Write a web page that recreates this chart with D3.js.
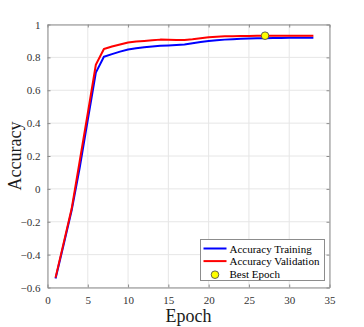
<!DOCTYPE html>
<meta charset="utf-8">
<style>
body { margin: 0; background: #fff; }
svg text { font-family: "Liberation Serif", "Times New Roman", serif !important; }
.grid line { stroke: #e6e6e6; stroke-width: 1; }
</style>
<body>
<script src="https://d3js.org/d3.v7.min.js"></script>
<script>

// data
var epochs = d3.range(1, 34);
var trainAcc = [-0.545, -0.34, -0.13, 0.13, 0.42, 0.707, 0.804, 0.82, 0.835, 0.848,
                0.855, 0.861, 0.866, 0.87, 0.872, 0.875, 0.879, 0.886, 0.893, 0.899,
                0.904, 0.908, 0.911, 0.913, 0.915, 0.916, 0.917, 0.918, 0.918, 0.919,
                0.919, 0.919, 0.919];
var valAcc = [-0.54, -0.33, -0.12, 0.17, 0.46, 0.755, 0.851, 0.866, 0.878, 0.89,
              0.896, 0.9, 0.904, 0.908, 0.907, 0.905, 0.906, 0.91, 0.916, 0.922,
              0.926, 0.928, 0.929, 0.93, 0.93, 0.931, 0.932, 0.932, 0.932, 0.932,
              0.932, 0.932, 0.932];
var bestEpoch = 27;
var xTicks = [0, 5, 10, 15, 20, 25, 30, 35];
var yTicks = [-0.6, -0.4, -0.2, 0, 0.2, 0.4, 0.6, 0.8, 1];
var legendLabels = ["Accuracy Training", "Accuracy Validation", "Best Epoch"];

var W = 364, H = 327;
var margin = {top: 24.5, right: 34.5, bottom: 39.5, left: 47.5},
    width = W - margin.left - margin.right,
    height = H - margin.top - margin.bottom;

var svg = d3.select("body").append("svg")
    .attr("width", W)
    .attr("height", H);

var g = svg.append("g")
    .attr("transform", "translate(" + margin.left + "," + margin.top + ")");

var x = d3.scaleLinear().domain([0, 35]).range([0, width]);
var y = d3.scaleLinear().domain([-0.6, 1]).range([height, 0]);

// grid
g.append("g").attr("class", "grid")
    .selectAll("line").data(xTicks).enter().append("line")
    .attr("x1", d => x(d)).attr("x2", d => x(d))
    .attr("y1", 0).attr("y2", height);
g.append("g").attr("class", "grid")
    .selectAll("line").data(yTicks).enter().append("line")
    .attr("x1", 0).attr("x2", width)
    .attr("y1", d => y(d)).attr("y2", d => y(d));

// lines
var line = d3.line()
    .x(function(d, i) { return x(epochs[i]); })
    .y(function(d) { return y(d); });

g.append("path").datum(trainAcc)
    .attr("fill", "none").attr("stroke", "#0000ff").attr("stroke-width", 2)
    .attr("stroke-linejoin", "round")
    .attr("d", line);
g.append("path").datum(valAcc)
    .attr("fill", "none").attr("stroke", "#ff0000").attr("stroke-width", 2)
    .attr("stroke-linejoin", "round")
    .attr("d", line);

// best epoch marker
g.append("circle")
    .attr("cx", x(bestEpoch))
    .attr("cy", y(valAcc[epochs.indexOf(bestEpoch)]))
    .attr("r", 3.8)
    .attr("fill", "#ffff00").attr("stroke", "#404040").attr("stroke-width", 0.8);

// axes (box with inward ticks)
var fmt = d3.format("");
function styleAxis(sel) {
    sel.attr("font-family", null).attr("font-size", null);
    sel.select(".domain").attr("stroke", "#8c8c8c");
    sel.selectAll(".tick line").attr("stroke", "#8c8c8c");
    sel.selectAll(".tick text").style("font-size", "11px").attr("fill", "#333");
}
g.append("g")
    .attr("transform", "translate(0," + height + ")")
    .call(d3.axisBottom(x).tickValues(xTicks).tickSizeInner(-3).tickSizeOuter(0).tickPadding(9).tickFormat(fmt))
    .call(styleAxis);
g.append("g")
    .call(d3.axisLeft(y).tickValues(yTicks).tickSizeInner(-3).tickSizeOuter(0).tickPadding(7).tickFormat(fmt))
    .call(styleAxis);
g.append("g")
    .call(d3.axisTop(x).tickValues(xTicks).tickSizeInner(-3).tickSizeOuter(0).tickFormat(""))
    .call(styleAxis);
g.append("g")
    .attr("transform", "translate(" + width + ",0)")
    .call(d3.axisRight(y).tickValues(yTicks).tickSizeInner(-3).tickSizeOuter(0).tickFormat(""))
    .call(styleAxis);

// axis labels
svg.append("text")
    .attr("x", margin.left + width / 2).attr("y", 322)
    .attr("text-anchor", "middle")
    .attr("fill", "#1a1a1a")
    .style("font-size", "18px")
    .text("Epoch");
svg.append("text")
    .attr("transform", "translate(21," + (margin.top + height / 2) + ") rotate(-90)")
    .attr("text-anchor", "middle")
    .attr("fill", "#1a1a1a")
    .style("font-size", "18px")
    .text("Accuracy");

// legend
var lg = svg.append("g").attr("transform", "translate(200.5,239.5)");
lg.append("rect")
    .attr("width", 124).attr("height", 41)
    .attr("fill", "#fff").attr("stroke", "#8c8c8c").attr("stroke-width", 1);
var legendColors = ["#0000ff", "#ff0000", null];
legendLabels.forEach(function(lab, i) {
    var ry = 9 + i * 12.6;
    if (legendColors[i]) {
        lg.append("line")
            .attr("x1", 3).attr("x2", 26).attr("y1", ry).attr("y2", ry)
            .attr("stroke", legendColors[i]).attr("stroke-width", 2);
    } else {
        lg.append("circle")
            .attr("cx", 14.5).attr("cy", ry + 1).attr("r", 3.8)
            .attr("fill", "#ffff00").attr("stroke", "#404040").attr("stroke-width", 0.8);
    }
    lg.append("text")
        .attr("x", 29).attr("y", ry + 4)
        .style("font-size", "11px")
        .attr("fill", "#000")
        .text(lab);
});

</script>
</body>
